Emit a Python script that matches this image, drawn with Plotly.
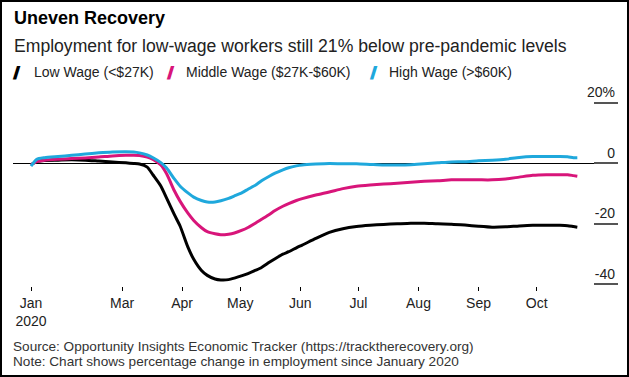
import plotly.graph_objects as go

# ---- data ----
dates = ["2020-01-14", "2020-01-17", "2020-01-21", "2020-01-28", "2020-02-04", "2020-02-11",
         "2020-02-18", "2020-02-25", "2020-03-03", "2020-03-07", "2020-03-10", "2020-03-14",
         "2020-03-17", "2020-03-21", "2020-03-24", "2020-03-28", "2020-03-31", "2020-04-04",
         "2020-04-07", "2020-04-11", "2020-04-14", "2020-04-18", "2020-04-21", "2020-04-25",
         "2020-04-28", "2020-05-02", "2020-05-05", "2020-05-09", "2020-05-12", "2020-05-16",
         "2020-05-19", "2020-05-23", "2020-05-26", "2020-05-30", "2020-06-02", "2020-06-09",
         "2020-06-16", "2020-06-23", "2020-06-30", "2020-07-07", "2020-07-14", "2020-07-21",
         "2020-07-28", "2020-08-04", "2020-08-11", "2020-08-18", "2020-08-25", "2020-09-01",
         "2020-09-08", "2020-09-15", "2020-09-22", "2020-09-29", "2020-10-06", "2020-10-13",
         "2020-10-17", "2020-10-20", "2020-10-22"]

low_wage = [-0.5, 0.6, 0.9, 1.0, 1.1, 1.0, 0.7, 0.4, 0.1, -0.1, -0.3, -1.3,
            -3.9, -7.5, -11.5, -17.0, -20.8, -27.7, -31.7, -35.4, -37.0, -38.2, -38.5, -38.4,
            -37.9, -37.1, -36.4, -35.3, -34.4, -32.7, -31.5, -30.0, -29.2, -27.9, -27.0, -24.8,
            -22.8, -21.6, -20.9, -20.5, -20.2, -20.0, -19.8, -19.8, -20.0, -20.1, -20.4, -20.8,
            -21.1, -21.0, -20.7, -20.5, -20.5, -20.5, -20.6, -20.9, -21.1]

middle_wage = [-0.5, 0.5, 1.0, 1.3, 1.5, 1.7, 2.0, 2.4, 2.6, 2.6, 2.5, 2.0,
               1.2, -0.6, -3.5, -9.1, -12.6, -16.5, -18.9, -21.3, -22.6, -23.3, -23.6, -23.4,
               -23.0, -22.1, -21.2, -19.7, -18.5, -16.9, -15.6, -14.2, -13.3, -12.3, -11.7, -10.5,
               -9.5, -8.4, -7.6, -7.2, -6.9, -6.6, -6.3, -6.0, -5.8, -5.5, -5.5, -5.5,
               -5.5, -5.2, -4.6, -4.0, -3.8, -3.8, -3.8, -4.1, -4.3]

high_wage = [-1.0, 1.3, 1.8, 2.2, 2.6, 3.0, 3.4, 3.7, 3.8, 3.7, 3.4, 2.7,
             1.8, 0.2, -1.6, -5.2, -7.6, -9.8, -11.2, -12.3, -12.8, -12.8, -12.4, -11.6,
             -10.8, -9.7, -8.6, -7.2, -5.8, -4.3, -3.3, -2.2, -1.5, -0.9, -0.6, -0.3,
             -0.1, -0.2, -0.2, -0.4, -0.6, -0.6, -0.5, -0.2, 0.1, 0.4, 0.5, 0.8,
             1.0, 1.3, 1.9, 2.2, 2.2, 2.2, 2.1, 1.8, 1.8]

series_names = ["Low Wage (&lt;$27K)", "Middle Wage ($27K-$60K)", "High Wage (&gt;$60K)"]
series_values = [low_wage, middle_wage, high_wage]
series_colors = ["#000000", "#d8157a", "#1fa8dc"]

x_tick_vals = ["2020-01-14", "2020-03-01", "2020-04-01", "2020-05-01", "2020-06-01",
               "2020-07-01", "2020-08-01", "2020-09-01", "2020-10-01"]
x_tick_text = ["Jan<br>2020", "Mar", "Apr", "May", "Jun", "Jul", "Aug", "Sep", "Oct"]
y_tick_vals = [-40, -20, 0, 20]
y_tick_text = ["-40", "-20", "0", "20%"]

title = "Uneven Recovery"
subtitle = "Employment for low-wage workers still 21% below pre-pandemic levels"
source = "Source: Opportunity Insights Economic Tracker (https://tracktherecovery.org)"
note = "Note: Chart shows percentage change in employment since January 2020"

# ---- layout geometry ----
W, H = 629, 377
ML, MR, MT, MB = 13, 11, 101, 91
PW = W - ML - MR
PH = H - MT - MB


def px(x):
    return (x - ML) / PW


def py(y):
    return (H - MB - y) / PH


FONT = "Liberation Sans, Arial, sans-serif"

fig = go.Figure()
for name, vals, color in zip(series_names, series_values, series_colors):
    fig.add_trace(go.Scatter(
        x=dates, y=vals, mode="lines", name=name,
        line=dict(color=color, width=3, shape="spline", smoothing=0.6),
        showlegend=False, hoverinfo="skip"))

annotations = [
    dict(text=f"<b>{title}</b>", x=px(12), y=py(18), font=dict(size=18, color="#000")),
    dict(text=subtitle, x=px(12), y=py(46), font=dict(size=17.6, color="#222")),
    dict(text=source, x=px(11), y=py(346.5), font=dict(size=13.6, color="#333")),
    dict(text=note, x=px(11), y=py(361.5), font=dict(size=13.6, color="#333")),
]
legend_icon_x = [12, 166, 369]
legend_text_x = [32, 184, 387]
for ix, tx, name, color in zip(legend_icon_x, legend_text_x, series_names, series_colors):
    annotations.append(dict(
        text=(f"<span style='font-family:DejaVu Sans;font-weight:bold;"
              f"stroke:{color};stroke-width:1.8px'>/</span>"),
        x=px(ix), y=py(72), font=dict(size=14, color=color)))
    annotations.append(dict(text=name, x=px(tx), y=py(72),
                            font=dict(size=14, color="#222")))
for a in annotations:
    a.update(xref="paper", yref="paper", xanchor="left", yanchor="middle",
             showarrow=False, align="left")

fig.update_layout(
    width=W, height=H,
    margin=dict(l=ML, r=MR, t=MT, b=MB),
    paper_bgcolor="white", plot_bgcolor="white",
    font=dict(family=FONT, size=14, color="#222"),
    annotations=annotations,
    shapes=[dict(type="rect", xref="paper", yref="paper",
                 x0=px(1), x1=px(628), y0=py(376), y1=py(1),
                 line=dict(color="black", width=2), layer="above")],
    xaxis=dict(
        type="date", range=["2020-01-04 17:00", "2020-11-12"],
        tickmode="array", tickvals=x_tick_vals, ticktext=x_tick_text,
        ticks="outside", ticklen=4, tickwidth=1, tickcolor="#000",
        showgrid=False, zeroline=False, showline=False,
        tickfont=dict(size=14, color="#222")),
    yaxis=dict(
        range=[-40.5, 20.5], side="right",
        tickmode="array", tickvals=y_tick_vals, ticktext=y_tick_text,
        ticks="inside", ticklen=24, tickwidth=1.5, tickcolor="#555",
        ticklabelposition="inside top", ticklabeloverflow="allow",
        showgrid=False, showline=False,
        zeroline=True, zerolinecolor="#000", zerolinewidth=1,
        tickfont=dict(size=14, color="#222")),
)

fig.write_html("out.html", config={"displayModeBar": False},
               post_script="document.body.style.margin='0';")
